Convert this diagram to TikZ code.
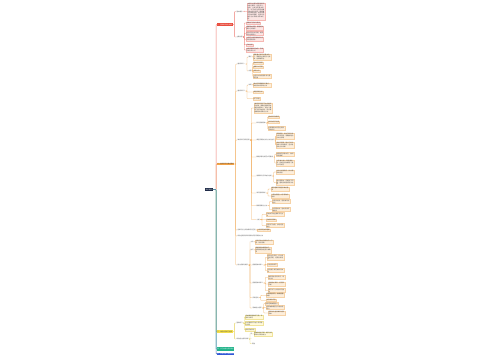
\documentclass[tikz,border=0pt]{standalone}
\usepackage{fontspec}
\newfontfamily\cjk{Noto Sans CJK SC}
\definecolor{navy}{HTML}{1E2A47}
\definecolor{redc}{HTML}{E94B3C}
\definecolor{pinkfill}{HTML}{FCE6E4}
\definecolor{pinkline}{HTML}{F6B8B3}
\definecolor{redline}{HTML}{EE7C74}
\definecolor{orangec}{HTML}{F6A445}
\definecolor{orfill}{HTML}{FDEEDB}
\definecolor{orline}{HTML}{F6D2A6}
\definecolor{orlinec}{HTML}{F2B064}
\definecolor{yellowc}{HTML}{F6E14B}
\definecolor{yefill}{HTML}{FFF9DC}
\definecolor{yeline}{HTML}{F0E39A}
\definecolor{yelinec}{HTML}{E6D25A}
\definecolor{greenc}{HTML}{21B38A}
\definecolor{bluec}{HTML}{2E56D6}
\definecolor{blueline}{HTML}{4F73B6}
\definecolor{txt}{HTML}{4A4A4A}
\newcommand\mmlink[4][]{\draw[#1] (#2.east) -- ++(#3,0) |- (#4.west);}
\tikzset{
  base/.style={font=\cjk\fontsize{1.5}{1.9}\selectfont, inner sep=0.4pt, anchor=west, align=left, text=txt},
  lab/.style={base, inner sep=0.3pt},
  leafR/.style={base, fill=pinkfill, draw=pinkline, line width=0.2pt},
  leafO/.style={base, fill=orfill, draw=orline, line width=0.2pt},
  leafY/.style={base, fill=yefill, draw=yeline, line width=0.2pt},
  lR/.style={draw=redline, line width=0.35pt, rounded corners=0.5pt},
  lO/.style={draw=orlinec, line width=0.35pt, rounded corners=0.5pt},
  lY/.style={draw=yelinec, line width=0.35pt, rounded corners=0.5pt},
  lG/.style={draw=greenc, line width=0.5pt, rounded corners=0.5pt},
  lB/.style={draw=blueline, line width=0.5pt, rounded corners=0.5pt},
  lRt/.style={draw=redline, line width=0.5pt, rounded corners=0.5pt},
  lOt/.style={draw=orlinec, line width=0.5pt, rounded corners=0.5pt},
  lYt/.style={draw=yelinec, line width=0.5pt, rounded corners=0.5pt},
  rootn/.style={base, fill=navy, text=white, inner sep=0.7pt},
  mainR/.style={base, fill=redc, text=white, inner sep=0.6pt},
  mainO/.style={base, fill=orangec, text=txt, inner sep=0.6pt},
  mainY/.style={base, fill=yellowc, text=txt, inner sep=0.6pt},
  mainG/.style={base, fill=greenc, text=white, inner sep=0.6pt, minimum height=4pt},
  mainB/.style={base, fill=bluec, text=white, inner sep=0.6pt}
}
\begin{document}
\XeTeXlinebreaklocale "zh"
\XeTeXlinebreakskip = 0pt plus 0.5pt
\begin{tikzpicture}[x=1pt, y=-1pt]
\useasboundingbox[fill=white] (0,0) rectangle (500,360);

% root and main branches
\node[rootn] (root) at (205,189.5) {知识导图};
\node[mainR] (R) at (216.5,24.5) {一、基础知识核心概念};
\node[mainO] (O) at (216.5,164) {二、重点知识与难点解析};
\node[mainY] (Y) at (216.5,331.5) {三、课后巩固练习提升};
\node[mainG] (G) at (216.5,349) {四、学习总结与反思评价};
\node[mainB] (B) at (216.5,353.9) {五、参考资料与拓展阅读};

\mmlink[lOt]{root}{3.3}{O}
\mmlink[lRt]{root}{3.3}{R}
\mmlink[lYt]{root}{3.3}{Y}
\mmlink[lG]{root}{3.3}{G}
\mmlink[lB]{root}{3.3}{B}

% ---------------- red branch
\node[lab] (R1) at (236,11.5) {基本概念};
\node[leafR, text width=17pt] (R1a) at (247,11.5) {本部分主要介绍基础知识的核心概念，包括定义、性质、分类及其基本特征。学习时应注意把握概念的内涵与外延，理解概念形成的过程，结合具体实例加深理解，运用所学概念分析和解决简单问题。};
\node[lab] (R2) at (236,37) {主要内容};
\node[leafR] (r21) at (246,23) {明确学习目标与要求};
\node[leafR, text width=16.5pt] (r22) at (246,27.8) {理解基本原理，掌握相关概念之间联系};
\node[leafR, text width=16.5pt] (r23) at (246,33.5) {结合实例分析问题，提高综合运用能力};
\node[leafR, text width=16.5pt] (r24) at (246,39.3) {注意区分易混淆的知识点及其适用条件};
\node[leafR] (r25) at (246,44.8) {归纳总结};
\node[leafR, text width=16.5pt] (r26) at (246,50) {构建完整知识体系，形成系统化的认识};
\mmlink[lR]{R}{1.5}{R1}
\mmlink[lR]{R}{1.5}{R2}
\mmlink[lR]{R1}{1.5}{R1a}
\foreach \c in {r21,r22,r23,r24,r25,r26}{\mmlink[lR]{R2}{1.2}{\c}}

% ---------------- orange branch
\node[lab] (O1) at (237,64) {重点知识一};
\node[lab] (O1a) at (248,57) {要点};
\node[leafO, text width=17pt] (O1ax) at (253,57) {理解重点知识的基本含义，掌握其主要特点与规律，能准确表述。};
\node[lab] (O1b) at (248,71) {内容};
\node[leafO] (O1b1) at (253,63) {基本知识梳理};
\node[leafO] (O1b2) at (253,67) {重要公式定理};
\node[leafO] (O1b3) at (253,71) {常用方法};
\node[leafO, text width=17pt] (O1b4) at (253,76.5) {注意公式的适用条件与使用范围};
\mmlink[lO]{O1}{1.5}{O1a}
\mmlink[lO]{O1}{1.5}{O1b}
\mmlink[lO]{O1a}{0.8}{O1ax}
\foreach \c in {O1b1,O1b2,O1b3,O1b4}{\mmlink[lO]{O1b}{0.8}{\c}}

\node[lab] (O2) at (237,91) {重点知识二};
\node[lab] (O2a) at (248,85) {说明};
\node[leafO, text width=17pt] (O2ax) at (253,85) {通过实例理解知识要点，体会其中的思想方法};
\node[leafO] (O2b) at (253,92) {典型例题分析};
\node[leafO] (O2c) at (253,98.5) {练习巩固};
\mmlink[lO]{O2}{1.5}{O2a}
\mmlink[lO]{O2}{1.5}{O2b}
\mmlink[lO]{O2}{1.5}{O2c}
\mmlink[lO]{O2a}{0.8}{O2ax}

\node[lab] (O3) at (237,140) {难点知识及其应用};
\node[leafO, text width=17pt] (O30) at (254,108) {难点知识是学习中的重点和关键，需要在理解基本概念的基础上，通过大量练习和归纳总结，逐步掌握解题的思路与方法。};
\node[lab] (O3a) at (256,123) {知识拓展延伸};
\node[leafO] (O3a1) at (268,117) {相关知识的联系};
\node[leafO] (O3a2) at (268,122) {知识的迁移运用};
\node[leafO, text width=16pt] (O3a3) at (268,128.5) {在新情境中灵活运用所学的知识};
\node[lab] (O3b) at (256,140) {典型问题的分析方法与技巧};
\node[leafO, text width=17pt] (O3b1) at (276,136) {审清题意，找出已知条件与所求问题，明确解题的方向与思路};
\node[leafO, text width=17pt] (O3b2) at (276,145) {画出示意图，建立已知与未知之间的联系，选择合适的方法求解};
\node[lab] (O3c) at (256,157) {解题步骤与规范书写要求};
\node[leafO, text width=17pt] (O3c1) at (276,154.5) {按照规范步骤书写，做到条理清晰};
\node[leafO, text width=17pt] (O3c2) at (276,163) {注意单位统一和结果检验，养成良好的解题习惯与书写规范};
\node[lab] (O3d) at (256,176) {易错知识点归纳与总结};
\node[leafO, text width=17pt] (O3d1) at (276,172) {对比分析易错点，找出错误的原因};
\node[leafO, text width=17pt] (O3d2) at (276,182.5) {建立错题本，定期复习回顾，避免同类错误再次出现};
\node[lab] (O3e) at (256,193) {常见错误辨析};
\node[leafO, text width=17pt] (O3e1) at (271,189) {概念理解不清楚导致的错误};
\node[leafO, text width=17pt] (O3e2) at (271,196) {计算过程粗心大意导致的错误};
\node[lab] (O3f) at (256,205.5) {解题思路与方法};
\node[leafO, text width=17pt] (O3f1) at (272,201.5) {从条件出发，逐步推导出结论};
\node[leafO, text width=17pt] (O3f2) at (272,209.5) {从问题出发，逆向寻找所需条件};
\node[lab] (O3g) at (256,219.5) {小结};
\node[leafO, text width=17pt] (O3g1) at (266,214.5) {归纳本节的主要知识与方法};
\node[leafO] (O3g2) at (266,219.8) {形成知识网络};
\node[leafO, text width=17pt] (O3g3) at (266,225.5) {反思学习过程，总结经验教训};
\foreach \c in {O30,O3a,O3b,O3c,O3d,O3e,O3f,O3g}{\mmlink[lO]{O3}{1.5}{\c}}
\foreach \c in {O3a1,O3a2,O3a3}{\mmlink[lO]{O3a}{1.5}{\c}}
\foreach \c in {O3b1,O3b2}{\mmlink[lO]{O3b}{0.6}{\c}}
\foreach \c in {O3c1,O3c2}{\mmlink[lO]{O3c}{1.2}{\c}}
\foreach \c in {O3d1,O3d2}{\mmlink[lO]{O3d}{1.8}{\c}}
\foreach \c in {O3e1,O3e2}{\mmlink[lO]{O3e}{2}{\c}}
\foreach \c in {O3f1,O3f2}{\mmlink[lO]{O3f}{2}{\c}}
\foreach \c in {O3g1,O3g2,O3g3}{\mmlink[lO]{O3g}{2}{\c}}

\node[lab] (O4) at (237,230) {各知识点之间的联系与区别};
\node[leafO] (O4a) at (257,229.8) {比较异同加深理解};
\node[lab] (O5) at (237,236) {综合运用所学知识解决实际问题的方法};
\mmlink[lO]{O4}{1.2}{O4a}

\node[lab] (O6) at (237,265) {能力拓展与提升};
\node[lab] (O6a) at (250,242) {方法};
\node[leafO, text width=17pt] (O6ax) at (255,242) {运用多种方法解决同一问题，拓宽思路};
\node[lab] (O6b) at (250,250) {技巧};
\node[leafO, text width=15pt] (O6bx) at (255,250) {掌握常用的解题技巧，提高解题的速度与准确率};
\node[lab] (O6c) at (252,265) {拓展延伸训练一};
\node[leafO, text width=16pt] (O6c1) at (267,257.5) {结合生活实际，设计探究性问题，培养创新意识};
\node[leafO] (O6c2) at (267,264.5) {分组合作探究};
\node[leafO, text width=16pt] (O6c3) at (267,270.5) {交流展示探究成果与体会};
\node[lab] (O6d) at (252,283) {拓展延伸训练二};
\node[leafO, text width=16pt] (O6d1) at (268,277.5) {联系其他学科知识，综合分析};
\node[leafO, text width=16pt] (O6d2) at (268,284) {查阅相关资料，拓宽知识面};
\node[leafO, text width=16pt] (O6d3) at (268,290.5) {撰写学习心得与研究报告};
\node[lab] (O6e) at (252,297.5) {实践活动};
\node[leafO, text width=17pt] (O6e1) at (266,295.3) {开展调查研究，收集整理数据};
\node[leafO] (O6e2) at (266,300.3) {动手操作实验};
\node[lab] (O6f) at (252,308) {思维能力培养};
\node[leafO] (O6f1) at (265,303.5) {培养逻辑推理能力};
\node[leafO, text width=17pt] (O6f2) at (266,307.5) {培养抽象概括与归纳总结能力};
\node[leafO, text width=16pt] (O6f3) at (268,313) {培养批判性思维和创新思维};
\foreach \c in {O6a,O6b,O6c,O6d,O6e,O6f}{\mmlink[lO]{O6}{1.5}{\c}}
\mmlink[lO]{O6a}{0.8}{O6ax}
\mmlink[lO]{O6b}{0.8}{O6bx}
\foreach \c in {O6c1,O6c2,O6c3}{\mmlink[lO]{O6c}{1.8}{\c}}
\foreach \c in {O6d1,O6d2,O6d3}{\mmlink[lO]{O6d}{1.8}{\c}}
\foreach \c in {O6e1,O6e2}{\mmlink[lO]{O6e}{1.8}{\c}}
\foreach \c in {O6f1,O6f2,O6f3}{\mmlink[lO]{O6f}{1.8}{\c}}

\foreach \c in {O1,O2,O3,O4,O5,O6}{\mmlink[lO]{O}{1.2}{\c}}

% ---------------- yellow branch
\node[lab] (Y1) at (236,323) {基础练习};
\node[leafY, text width=17pt] (Y11) at (245,317) {完成课后基础练习题，巩固所学知识};
\node[leafY, text width=17pt] (Y12) at (245,323.5) {针对薄弱环节进行专项强化训练};
\node[leafY] (Y13) at (245,329.5) {按时完成作业};
\node[lab] (Y2) at (236,339) {综合能力提升训练};
\node[lab] (Y2a) at (250,334) {例};
\node[leafY, text width=18pt] (Y2ax) at (253.5,334) {选做综合性习题，提升分析和解决问题的能力};
\node[lab] (Y2b) at (250.5,339) {•};
\node[lab] (Y2c) at (251.5,343.5) {其他};
\mmlink[lY]{Y}{1.5}{Y1}
\mmlink[lY]{Y}{1.5}{Y2}
\foreach \c in {Y11,Y12,Y13}{\mmlink[lY]{Y1}{1.2}{\c}}
\foreach \c in {Y2a,Y2b,Y2c}{\mmlink[lY]{Y2}{1}{\c}}
\mmlink[lY]{Y2a}{0.5}{Y2ax}
\end{tikzpicture}
\end{document}
